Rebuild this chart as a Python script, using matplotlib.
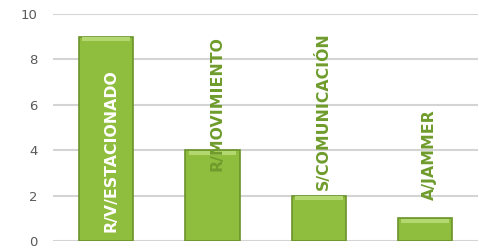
import matplotlib.pyplot as plt
import numpy as np

categories = ["R/V/ESTACIONADO", "R/MOVIMIENTO", "S/COMUNICACIÓN", "A/JAMMER"]
values = [9, 4, 2, 1]
yticks = [0, 2, 4, 6, 8, 10]

# where each rotated label starts (data units), as placed in the original
label_base = [0.4, 3.1, 2.25, 1.8]
label_colors = ["white", "#6f9c2c", "#6f9c2c", "#6f9c2c"]

fig = plt.figure(figsize=(4.79, 2.48), dpi=100)
ax = fig.add_axes([0.111, 0.028, 0.887, 0.916])
x = np.arange(len(categories))

ax.bar(x, values, width=0.51, color="#8fbd3e", edgecolor="#6a942a", linewidth=1.2, zorder=3)
# top bevel highlight
ax.bar(x, [0.18] * len(values), bottom=np.array(values) - 0.2, width=0.45,
       color="#b2d86f", linewidth=0, zorder=4)

for i, name in enumerate(categories):
    ax.text(x[i] + 0.04, label_base[i], name, rotation=90, ha="center", va="bottom",
            color=label_colors[i], fontsize=11.3, fontweight="bold",
            family="DejaVu Sans", zorder=5)

ax.set_xlim(-0.5, 3.5)
ax.set_ylim(0, 10)
ax.set_yticks(yticks)
ax.set_xticks([])
ax.yaxis.grid(True, color="#d4d4d4", linewidth=1.5, zorder=0)
ax.tick_params(axis="y", length=0, labelsize=9.5, labelcolor="#595959", pad=11)
for s in ax.spines.values():
    s.set_visible(False)

fig.savefig("out.png", dpi=100)
